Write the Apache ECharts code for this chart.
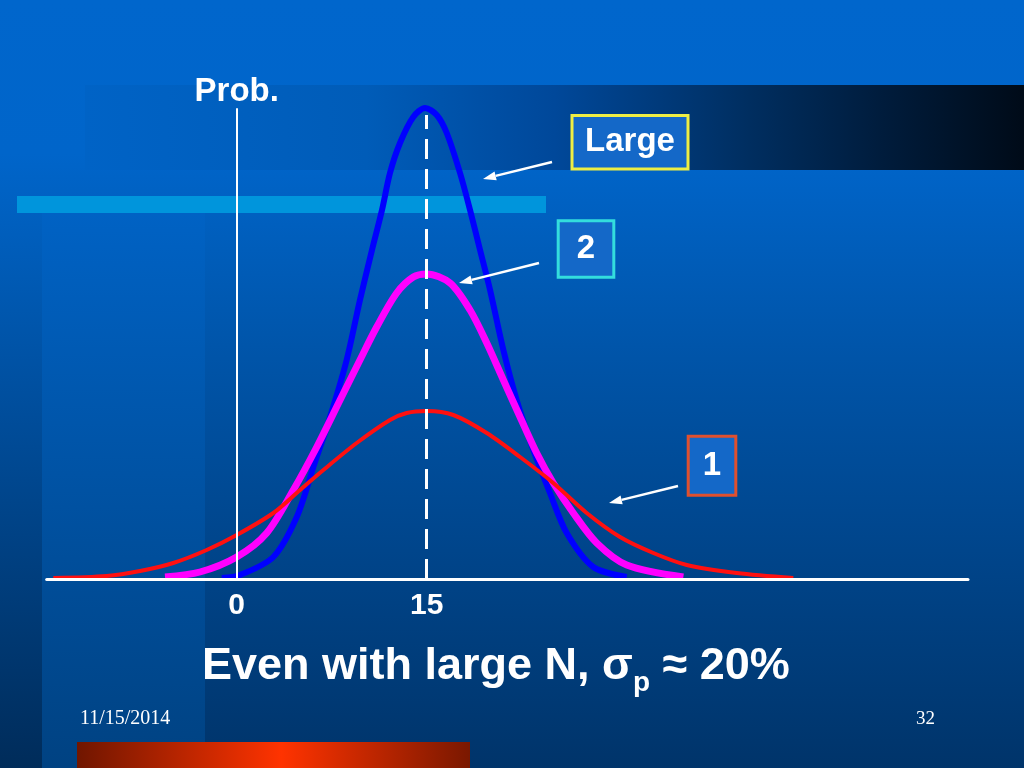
<!DOCTYPE html>
<html>
<head>
<meta charset="utf-8">
<script src="https://cdn.jsdelivr.net/npm/echarts/dist/echarts.min.js"></script>
<style>
  html, body { margin: 0; padding: 0; background: #0066cc; }
  #chart { width: 1024px; height: 768px; }
</style>
</head>
<body>
<div id="chart"></div>
<script>
// ---- Data ----
// Curve "Large" (blue)
const largeX = [-1.18, 0.26, 2.89, 4.74, 6.05, 7.37, 8.68, 9.73, 10.68, 11.47, 12.1, 12.89, 13.94, 14.87, 15.79, 16.58, 17.63, 18.42, 19.21, 20.0, 21.05, 22.1, 23.42, 24.73, 26.05, 28.15, 30.79];
const largeY = [0.001, 0.004, 0.022, 0.062, 0.112, 0.162, 0.219, 0.279, 0.329, 0.369, 0.406, 0.436, 0.462, 0.471, 0.464, 0.446, 0.406, 0.369, 0.329, 0.289, 0.229, 0.179, 0.129, 0.086, 0.046, 0.012, 0.002];
// Curve "2" (magenta)
const twoX = [-5.66, -2.9, 0, 2.37, 4.47, 6.32, 8.16, 9.73, 11.05, 12.63, 13.94, 15, 16.84, 18.42, 19.74, 21.05, 22.37, 23.68, 24.99, 26.57, 28.42, 30.79, 35.26];
const twoY = [0.002, 0.007, 0.022, 0.046, 0.089, 0.132, 0.179, 0.219, 0.252, 0.286, 0.302, 0.305, 0.296, 0.269, 0.236, 0.199, 0.162, 0.126, 0.096, 0.066, 0.036, 0.014, 0.002];
// Curve "1" (red)
const oneX = [-14.48, -10.26, -7.63, -5.01, -2.37, 0, 2.89, 5.0, 6.84, 9.47, 12.1, 13.42, 15, 17.1, 19.74, 22.37, 24.99, 27.63, 30.26, 32.89, 35.53, 39.47, 43.94];
const oneY = [0.001, 0.003, 0.008, 0.016, 0.029, 0.044, 0.066, 0.089, 0.109, 0.136, 0.159, 0.166, 0.168, 0.164, 0.146, 0.122, 0.096, 0.066, 0.042, 0.026, 0.014, 0.006, 0.001];
// Mean marker (dashed line)
const meanX = 15;
const meanLineTop = 0.464;
// Axis ticks
const xTickValues = [0, 15];
const xTickLabels = ['0', '15'];
const yAxisName = 'Prob.';
// Annotation texts
const boxLabels = ['Large', '2', '1'];
const titleMain = 'Even with large N, ';
const titleSigma = 'σ';
const titleSub = 'p';
const titleTail = ' ≈ 20%';
const footerDate = '11/15/2014';
const footerPage = '32';

// ---- Helpers ----
const pairs = (xs, ys) => xs.map((x, i) => [x, ys[i]]);
const SANS = '"Liberation Sans", Arial, sans-serif';
const SERIF = '"Liberation Serif", "Times New Roman", serif';

function arrow(x1, y1, x2, y2) {
  const a = Math.atan2(y2 - y1, x2 - x1), L = 13, hw = 4.5;
  const bx = x2 - L * Math.cos(a), by = y2 - L * Math.sin(a);
  const px = -Math.sin(a) * hw, py = Math.cos(a) * hw;
  return [
    { type: 'line', silent: true, z: 100, shape: { x1, y1, x2: bx, y2: by }, style: { stroke: '#ffffff', lineWidth: 2.5 } },
    { type: 'polygon', silent: true, z: 100, shape: { points: [[x2, y2], [bx + px, by + py], [bx - px, by - py]] }, style: { fill: '#ffffff' } }
  ];
}
function box(x, y, w, h, border, text) {
  return [
    { type: 'rect', silent: true, z: 100, shape: { x, y, width: w, height: h }, style: { fill: '#1468c8', stroke: border, lineWidth: 3 } },
    { type: 'text', silent: true, z: 101, x: x + w / 2, y: y + h / 2,
      style: { text, fill: '#ffffff', font: 'bold 33px ' + SANS, align: 'center', verticalAlign: 'middle', textAlign: 'center', textVerticalAlign: 'middle' } }
  ];
}
function vgrad(stops) {
  return { type: 'linear', x: 0, y: 0, x2: 0, y2: 1, colorStops: stops.map(s => ({ offset: s[0], color: s[1] })) };
}
function hgrad(stops) {
  return { type: 'linear', x: 0, y: 0, x2: 1, y2: 0, colorStops: stops.map(s => ({ offset: s[0], color: s[1] })) };
}

const background = [
  { type: 'rect', silent: true, z: -30, shape: { x: 0, y: 0, width: 1024, height: 768 },
    style: { fill: vgrad([[0, '#0066cc'], [0.2, '#0065ca'], [0.45, '#0055aa'], [1, '#00346a']]) } },
  { type: 'rect', silent: true, z: -29, shape: { x: 0, y: 213, width: 42, height: 555 },
    style: { fill: vgrad([[0, '#0060c0'], [1, '#002c5a']]) } },
  { type: 'rect', silent: true, z: -29, shape: { x: 42, y: 213, width: 163, height: 555 },
    style: { fill: vgrad([[0, '#0062c4'], [1, '#004282']]) } },
  { type: 'rect', silent: true, z: -28, shape: { x: 85, y: 85, width: 939, height: 85 },
    style: { fill: hgrad([[0, '#0063c6'], [0.3, '#005cb8'], [0.5, '#00489a'], [0.7, '#002f62'], [0.85, '#001c3c'], [1, '#000b18']]) } },
  { type: 'rect', silent: true, z: -27, shape: { x: 17, y: 196, width: 529, height: 17 },
    style: { fill: '#0095dc' } },
  { type: 'rect', silent: true, z: -27, shape: { x: 77, y: 742, width: 393, height: 26 },
    style: { fill: hgrad([[0, '#701600'], [0.52, '#ff3300'], [1, '#7a1800']]) } }
];

const annotations = [].concat(
  box(572, 115.5, 116, 53.5, '#eeee44', boxLabels[0]),
  box(558.2, 220.8, 55.6, 56.4, '#33dddd', boxLabels[1]),
  box(688.2, 436.2, 47.6, 59, '#e0502e', boxLabels[2]),
  arrow(552, 162, 483, 179),
  arrow(539, 263, 459, 283),
  arrow(678, 486, 609, 503),
  [
    { type: 'text', silent: true, z: 100, x: 80, y: 719,
      style: { text: footerDate, fill: '#ffffff', font: '20px ' + SERIF, align: 'left', verticalAlign: 'middle', textAlign: 'left', textVerticalAlign: 'middle' } },
    { type: 'text', silent: true, z: 100, x: 935, y: 719,
      style: { text: footerPage, fill: '#ffffff', font: '19px ' + SERIF, align: 'right', verticalAlign: 'middle', textAlign: 'right', textVerticalAlign: 'middle' } }
  ]
);

const chart = echarts.init(document.getElementById('chart'), null, { renderer: 'canvas', width: 1024, height: 768 });
chart.setOption({
  animation: false,
  backgroundColor: 'transparent',
  title: {
    text: '{a|' + titleMain + '}{s|' + titleSigma + '}{p|' + titleSub + '}{a|' + titleTail + '}',
    left: 197,
    top: 635,
    textStyle: {
      rich: {
        a: { fontSize: 45, fontWeight: 'bold', color: '#ffffff', fontFamily: SANS, lineHeight: 54 },
        s: { fontSize: 45, fontWeight: 'bold', color: '#ffffff', fontFamily: SANS, lineHeight: 54 },
        p: { fontSize: 28, fontWeight: 'bold', color: '#ffffff', fontFamily: SANS, lineHeight: 28, padding: [32, 0, 0, 0] }
      }
    }
  },
  grid: { left: 46.7, right: 56, top: 109, bottom: 189, containLabel: false, outerBoundsMode: 'none' },
  xAxis: {
    type: 'value', min: -15, max: 57.73, z: 5,
    axisLine: { show: true, onZero: false, lineStyle: { color: '#ffffff', width: 3 } },
    axisTick: { show: false },
    splitLine: { show: false },
    axisLabel: {
      customValues: xTickValues,
      formatter: v => { const i = xTickValues.indexOf(v); return i >= 0 ? xTickLabels[i] : ''; },
      color: '#ffffff', fontSize: 30, fontWeight: 'bold', fontFamily: SANS, margin: 12
    }
  },
  yAxis: {
    type: 'value', min: 0, max: 0.47, z: 5,
    name: yAxisName, nameLocation: 'end', nameGap: 1,
    nameTextStyle: { color: '#ffffff', fontSize: 33, fontWeight: 'bold', fontFamily: SANS },
    axisLine: { show: true, onZero: true, lineStyle: { color: '#ffffff', width: 2 } },
    axisTick: { show: false },
    axisLabel: { show: false },
    splitLine: { show: false }
  },
  series: [
    { type: 'line', name: boxLabels[0], data: pairs(largeX, largeY), smooth: 0.3, symbol: 'none', clip: false, z: 2,
      lineStyle: { color: '#0000ff', width: 6 } },
    { type: 'line', name: boxLabels[1], data: pairs(twoX, twoY), smooth: 0.3, symbol: 'none', clip: false, z: 3,
      lineStyle: { color: '#ff00ff', width: 7 } },
    { type: 'line', name: boxLabels[2], data: pairs(oneX, oneY), smooth: 0.3, symbol: 'none', clip: false, z: 4,
      lineStyle: { color: '#ff1010', width: 4 } },
    { type: 'line', data: [], z: 6, silent: true,
      markLine: {
        silent: true, symbol: ['none', 'none'], animation: false,
        label: { show: false },
        lineStyle: { color: '#ffffff', width: 3, type: [20, 10] },
        data: [[{ coord: [meanX, 0] }, { coord: [meanX, meanLineTop] }]]
      } }
  ],
  graphic: { elements: background.concat(annotations) }
});
</script>
</body>
</html>
